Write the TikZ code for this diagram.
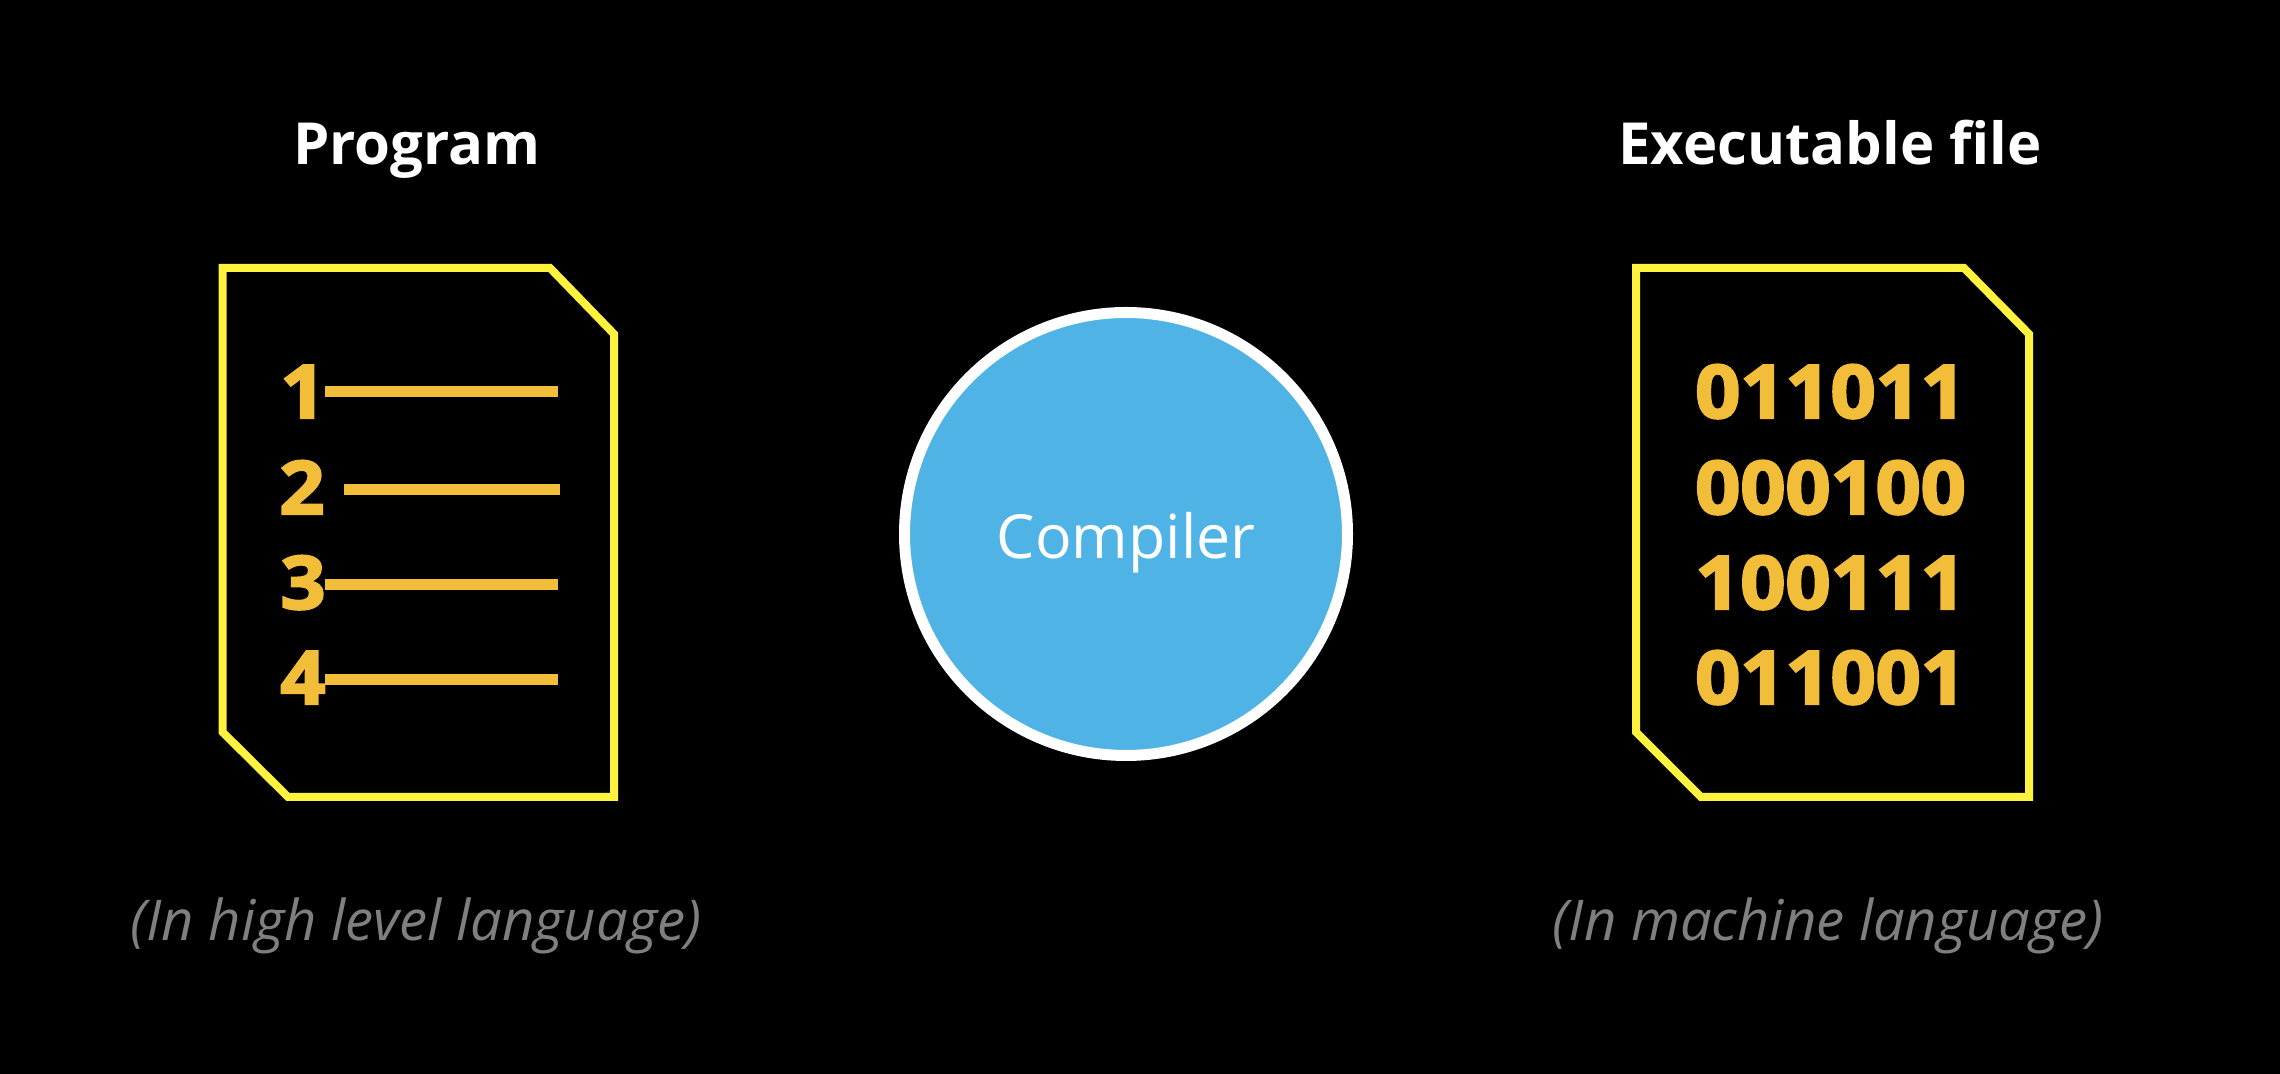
\documentclass[tikz,border=0pt]{standalone}
\usepackage{fontspec}
\setmainfont{Open Sans}
\newfontfamily\digitfont[BoldFeatures={FakeBold=3}]{Open Sans}
\usetikzlibrary{positioning}

\definecolor{pageline}{HTML}{FFF23F}
\definecolor{inkgold}{HTML}{F2BE3A}
\definecolor{compblue}{HTML}{4FB3E6}
\definecolor{notegray}{HTML}{7F7F7F}

\tikzset{
  pagefile/.style={pageline, line width=0.08cm, line join=miter},
  codeline/.style={inkgold, line width=0.11cm},
  bits/.style={text=inkgold, anchor=base, inner sep=0pt, xscale=1.07,
    font=\digitfont\bfseries\fontsize{21}{25}\selectfont},
  headline/.style={text=white, inner sep=0pt, anchor=base, font=\bfseries\fontsize{16.5}{20}\selectfont},
  noteline/.style={text=notegray, inner sep=0pt, font=\itshape\fontsize{16}{19}\selectfont}
}

\begin{document}
\begin{tikzpicture}
\fill[black] (0,0) rectangle (22.8,10.74);

\node[headline] (program) at (4.17,9.095) {Program};
\node[headline] (executable) at (18.30,9.095) {Executable file};

\draw[pagefile] (2.225,8.06) -- (5.50,8.06) -- (6.14,7.40) -- (6.14,2.77) -- (2.88,2.77) -- (2.225,3.42) -- cycle;
\draw[pagefile] (16.36,8.06) -- (19.64,8.06) -- (20.29,7.40) -- (20.29,2.77) -- (17.01,2.77) -- (16.36,3.42) -- cycle;

\node[bits] (numone) at (3.03,6.56) {1};
\node[bits] (numtwo) at (3.02,5.60) {2};
\node[bits] (numthree) at (3.03,4.65) {3};
\node[bits] (numfour) at (3.03,3.70) {4};
\draw[codeline] (3.25,6.82) -- (5.58,6.82);
\draw[codeline] (3.44,5.84) -- (5.60,5.84);
\draw[codeline] (3.25,4.89) -- (5.58,4.89);
\draw[codeline] (3.25,3.94) -- (5.58,3.94);

\node[circle, draw=white, fill=compblue, line width=0.11cm, minimum size=4.43cm, inner sep=0pt] (compiler) at (11.26,5.40) {};
\node[text=white, inner sep=0pt, anchor=base, font=\fontsize{17.3}{21}\selectfont] (complabel) at (11.26,5.15) {Compiler};

\node[bits] (rowone) at (18.305,6.56) {011011};
\node[bits] (rowtwo) at (18.305,5.60) {000100};
\node[bits] (rowthree) at (18.305,4.65) {100111};
\node[bits] (rowfour) at (18.305,3.70) {011001};

\node[noteline] (highnote) at (4.16,1.48) {(In high level language)};
\node[noteline] (machnote) at (18.285,1.48) {(In machine language)};
\end{tikzpicture}
\end{document}
